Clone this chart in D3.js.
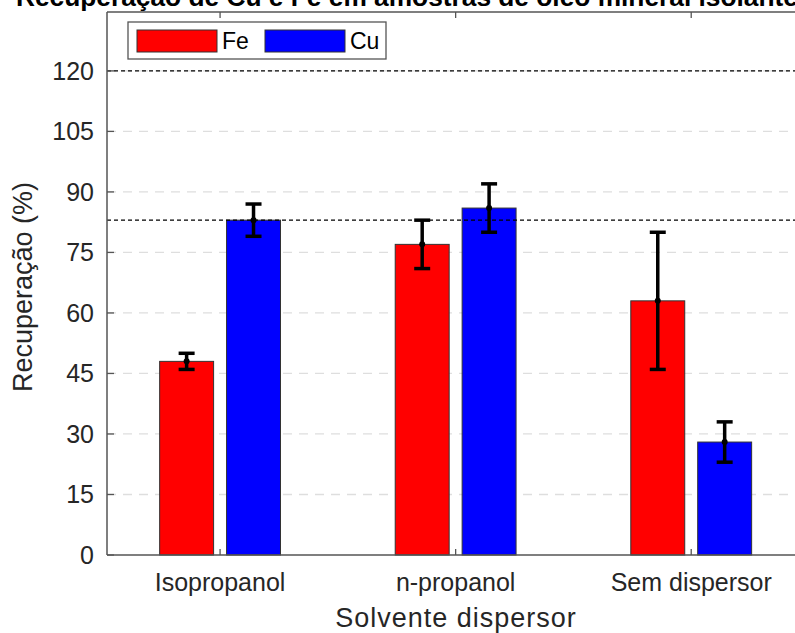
<!DOCTYPE html>
<html>
<head>
<meta charset="utf-8">
<script src="https://cdn.jsdelivr.net/npm/d3@7"></script>
<style>
  body { margin: 0; background: #fff; }
  text { font-family: "Liberation Sans", Arial, sans-serif; }
</style>
</head>
<body>
<svg class="chart"></svg>
<script>
// chart data
const categories = ['Isopropanol', 'n-propanol', 'Sem dispersor']
const seriesNames = ['Fe', 'Cu']
const seriesColors = ['#ff0000', '#0000ff']
const feValues = [48, 77, 63]
const feLow = [46, 71, 46]
const feHigh = [50, 83, 80]
const cuValues = [83, 86, 28]
const cuLow = [79, 80, 23]
const cuHigh = [87, 92, 33]
const yTicks = [0, 15, 30, 45, 60, 75, 90, 105, 120]
const refLines = [120, 83]

const width = 795, height = 633
const plot = { left: 107, right: 809, top: 12, bottom: 555 }

const svg = d3.select('.chart')
  .attr('width', width)
  .attr('height', height)

const x = d3.scaleLinear().domain([0.52, 3.5]).range([plot.left, plot.right])
const y = d3.scaleLinear().domain([0, 134.6]).range([plot.bottom, plot.top])
const barW = 0.229, barOff = 0.142

const series = [
  { name: seriesNames[0], color: seriesColors[0], values: feValues, lo: feLow, hi: feHigh, off: -barOff },
  { name: seriesNames[1], color: seriesColors[1], values: cuValues, lo: cuLow, hi: cuHigh, off: barOff }
]

// light dashed grid
svg.append('g')
  .selectAll('line')
  .data(yTicks.filter(t => t > 0))
  .enter().append('line')
  .attr('x1', plot.left).attr('x2', width)
  .attr('y1', d => y(d)).attr('y2', d => y(d))
  .attr('stroke', '#dedede')
  .attr('stroke-width', 1.3)
  .attr('stroke-dasharray', '9,7')

// bars
series.forEach(s => {
  svg.append('g')
    .selectAll('rect')
    .data(s.values)
    .enter().append('rect')
    .attr('x', (d, i) => x(i + 1 + s.off - barW / 2))
    .attr('width', x(barW) - x(0))
    .attr('y', d => y(d))
    .attr('height', d => y(0) - y(d))
    .attr('fill', s.color)
    .attr('stroke', '#333')
    .attr('stroke-width', 1)
})

// reference lines
svg.append('g')
  .selectAll('line')
  .data(refLines)
  .enter().append('line')
  .attr('x1', plot.left).attr('x2', width)
  .attr('y1', d => y(d)).attr('y2', d => y(d))
  .attr('stroke', '#000')
  .attr('stroke-width', 1.3)
  .attr('stroke-dasharray', '4,3')

// error bars
series.forEach(s => {
  const g = svg.append('g')
  s.values.forEach((v, i) => {
    const cx = x(i + 1 + s.off)
    g.append('line')
      .attr('x1', cx).attr('x2', cx)
      .attr('y1', y(s.lo[i])).attr('y2', y(s.hi[i]))
      .attr('stroke', '#000').attr('stroke-width', 3.5)
    ;[s.lo[i], s.hi[i]].forEach(e => {
      g.append('line')
        .attr('x1', cx - 8).attr('x2', cx + 8)
        .attr('y1', y(e)).attr('y2', y(e))
        .attr('stroke', '#000').attr('stroke-width', 3.5)
    })
    g.append('circle')
      .attr('cx', cx).attr('cy', y(v)).attr('r', 3)
      .attr('fill', '#000')
  })
})

// axes
const axisColor = '#555'
svg.append('line')
  .attr('x1', plot.left).attr('x2', plot.left)
  .attr('y1', plot.top).attr('y2', plot.bottom)
  .attr('stroke', axisColor).attr('stroke-width', 1.5)
svg.append('line')
  .attr('x1', plot.left).attr('x2', width)
  .attr('y1', plot.bottom).attr('y2', plot.bottom)
  .attr('stroke', axisColor).attr('stroke-width', 1.5)
svg.append('line')
  .attr('x1', plot.left).attr('x2', width)
  .attr('y1', plot.top).attr('y2', plot.top)
  .attr('stroke', axisColor).attr('stroke-width', 1.5)

// y ticks + labels
const yAxis = svg.append('g')
yAxis.selectAll('line')
  .data(yTicks)
  .enter().append('line')
  .attr('x1', plot.left).attr('x2', plot.left + 7)
  .attr('y1', d => y(d)).attr('y2', d => y(d))
  .attr('stroke', axisColor).attr('stroke-width', 1.3)
yAxis.selectAll('text')
  .data(yTicks)
  .enter().append('text')
  .attr('x', 94)
  .attr('y', d => y(d) + 9)
  .attr('text-anchor', 'end')
  .attr('font-size', 25)
  .attr('fill', '#262626')
  .text(d => d)

// x ticks (bottom and mirrored top) + labels
const xAxis = svg.append('g')
categories.forEach((c, i) => {
  const cx = x(i + 1)
  xAxis.append('line')
    .attr('x1', cx).attr('x2', cx)
    .attr('y1', plot.bottom).attr('y2', plot.bottom - 6)
    .attr('stroke', axisColor).attr('stroke-width', 1.3)
  xAxis.append('line')
    .attr('x1', cx).attr('x2', cx)
    .attr('y1', plot.top).attr('y2', plot.top + 6)
    .attr('stroke', axisColor).attr('stroke-width', 1.3)
  xAxis.append('text')
    .attr('x', cx)
    .attr('y', 591)
    .attr('text-anchor', 'middle')
    .attr('font-size', 25)
    .attr('fill', '#262626')
    .text(c)
})

// axis titles
svg.append('text')
  .attr('x', 456)
  .attr('y', 627)
  .attr('text-anchor', 'middle')
  .attr('font-size', 27)
  .attr('letter-spacing', 1)
  .attr('fill', '#262626')
  .text('Solvente dispersor')

svg.append('text')
  .attr('transform', 'translate(32,287) rotate(-90)')
  .attr('text-anchor', 'middle')
  .attr('font-size', 27)
  .attr('fill', '#262626')
  .text('Recuperação (%)')

// title, cut off at the top as in the original figure
svg.append('text')
  .attr('x', 16)
  .attr('y', 6)
  .attr('font-size', 26.3)
  .attr('font-weight', 'bold')
  .attr('fill', '#000')
  .text('Recuperação de Cu e Fe em amostras de óleo mineral isolante')

// legend
const legend = svg.append('g')
legend.append('rect')
  .attr('x', 128).attr('y', 22)
  .attr('width', 258).attr('height', 37)
  .attr('fill', '#fff')
  .attr('stroke', axisColor).attr('stroke-width', 1.3)
series.forEach((s, i) => {
  const lx = 137 + i * 128
  legend.append('rect')
    .attr('x', lx).attr('y', 30)
    .attr('width', 80).attr('height', 22)
    .attr('fill', s.color)
    .attr('stroke', '#333').attr('stroke-width', 1)
  legend.append('text')
    .attr('x', lx + 85).attr('y', 49)
    .attr('font-size', 23)
    .attr('fill', '#000')
    .text(s.name)
})
</script>
</body>
</html>
